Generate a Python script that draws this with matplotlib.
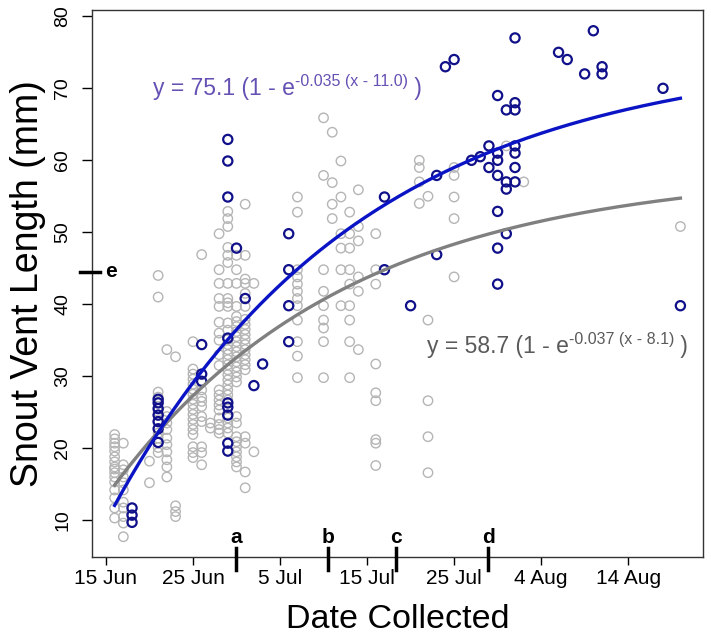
import numpy as np
import matplotlib
matplotlib.use("Agg")
import matplotlib.pyplot as plt
import matplotlib.transforms as mtransforms

plt.rcParams["font.family"] = ["Liberation Sans", "DejaVu Sans"]

# day number: 1 = 1 June
gray_columns = [
    (16, [21.9, 21.3, 20.7, 20.2, 19.6, 18.8, 18.1, 17.4, 17.1, 16.6, 16.0, 15.3, 14.2, 13.1, 11.7, 10.3]),
    (17, [20.7, 17.7, 17.0, 16.0, 15.2, 14.2, 12.5, 11.7, 10.5, 9.6, 7.7]),
    (20, [18.2, 15.2]),
    (21, [44.0, 41.0, 27.8, 27.1, 25.1, 24.6, 23.7, 22.1, 21.4, 20.1, 19.4]),
    (22, [33.7, 25.1, 24.4, 23.5, 22.6, 21.4, 20.5, 19.5, 18.4, 17.4, 16.0]),
    (23, [32.7, 12.0, 11.2, 10.5]),
    (25, [34.8, 31.0, 30.3, 29.6, 28.9, 28.2, 27.5, 26.8, 26.1, 25.4, 24.7, 24.0, 23.3, 22.6, 21.9,
          20.2, 19.4, 18.7]),
    (26, [46.9, 28.1, 27.1, 26.5, 25.8, 24.4, 23.7, 20.2, 19.4, 17.7]),
    (27, [23.5, 22.8]),
    (28, [49.8, 44.8, 42.9, 40.8, 39.7, 37.5, 36.0, 35.0, 33.0, 31.5, 28.1, 27.4, 26.7, 26.0, 25.3,
          24.2, 23.3, 22.6, 22.1]),
    (29, [52.9, 51.9, 50.8, 47.9, 46.8, 45.8, 42.9, 40.8, 40.2, 39.7, 37.4, 36.4, 35.1, 34.4, 33.7,
          33.0, 32.3, 31.6, 30.9, 30.2, 29.5, 28.8, 28.1, 27.4, 26.7, 24.2, 23.5, 22.8, 22.1]),
    (30, [46.8, 44.8, 42.9, 39.7, 38.3, 37.6, 36.9, 36.2, 35.5, 34.8, 34.1, 33.4, 32.7, 32.0, 31.3,
          30.6, 29.9, 29.2, 24.4, 23.5, 21.6, 20.9, 20.2, 19.5, 18.8, 18.1, 17.4]),
    (31, [53.9, 46.8, 43.5, 42.9, 41.5, 39.7, 37.9, 37.2, 36.5, 35.8, 35.1, 34.4, 33.7, 33.0, 32.3,
          31.6, 30.9, 21.6, 20.7, 16.7, 14.5]),
    (32, [42.9, 19.5]),
    (37, [54.9, 52.8, 44.8, 43.8, 42.8, 41.8, 40.8, 39.8, 37.8, 34.8, 32.8, 29.8]),
    (40, [65.9, 57.9, 44.8, 41.8, 39.8, 37.8, 36.7, 34.8, 29.8]),
    (41, [63.9, 56.9, 53.9, 51.9]),
    (42, [59.9, 54.9, 49.8, 47.8, 44.8, 39.8]),
    (43, [52.8, 49.8, 47.8, 44.8, 42.8, 39.8, 37.8, 34.8, 29.8]),
    (44, [55.9, 50.8, 48.8, 43.8, 41.8, 33.7]),
    (46, [49.8, 44.8, 42.8, 31.7, 27.7, 26.6, 21.2, 20.7, 17.6]),
    (51, [60.0, 59.0, 57.0, 54.0]),
    (52, [55.0, 37.8, 26.6, 21.6, 16.6]),
    (55, [59.0, 57.9, 54.9, 51.9, 43.8]),
    (61, [62.0]),
    (63, [57.0]),
    (81, [50.8]),
]

blue_columns = [
    (18, [11.7, 10.7, 9.7]),
    (21, [26.8, 26.3, 25.5, 24.6, 23.7, 22.7, 20.8]),
    (26, [34.4, 30.3, 29.3]),
    (29, [62.9, 59.9, 54.9, 35.3, 26.3, 25.7, 24.6, 20.7, 19.6]),
    (30, [47.8]),
    (31, [40.8]),
    (32, [28.7]),
    (33, [31.7]),
    (36, [49.8, 44.8, 39.8, 34.8]),
    (47, [54.9, 44.8]),
    (50, [39.8]),
    (53, [57.9, 46.9]),
    (54, [73.0]),
    (55, [74.0]),
    (57, [60.0]),
    (58, [60.5]),
    (59, [62.0, 59.0]),
    (60, [69.0, 61.0, 60.0, 57.9, 52.9, 47.8, 42.8]),
    (61, [67.0, 57.0, 56.0, 49.8]),
    (62, [77.0, 68.0, 67.0, 62.0, 61.0, 59.0, 57.0]),
    (67, [75.0]),
    (68, [74.0]),
    (70, [72.0]),
    (71, [78.0]),
    (72, [73.0, 72.0]),
    (79, [70.0]),
    (81, [39.8]),
]

# von Bertalanffy fits: (asymptote, k, t0)
blue_fit = (75.1, 0.035, 11.0)
gray_fit = (58.7, 0.037, 8.1)

date_ticks = [15, 25, 35, 45, 55, 65, 75]
date_labels = ["15 Jun", "25 Jun", "5 Jul", "15 Jul", "25 Jul", "4 Aug", "14 Aug"]
event_days = [30, 40.5, 48.3, 58.9]
event_letters = ["a", "b", "c", "d"]
e_level = 44.5


def expand(columns):
    xs, ys = [], []
    for day, vals in columns:
        xs += [day] * len(vals)
        ys += vals
    return np.array(xs, float), np.array(ys, float)


def vb(x, fit):
    L, k, t0 = fit
    return L * (1 - np.exp(-k * (x - t0)))


def equation(ax, x, y, fit, color):
    # main text, raised exponent, then closing paren on the same baseline
    L, k, t0 = fit
    t1 = ax.text(x, y, f"y = {L:.1f} (1 - e", transform=ax.transAxes, color=color,
                 fontsize=16.5, va="baseline", ha="left")
    t2 = ax.annotate(f"-{k:.3f} (x - {t0:.1f})", xy=(1, 0.62), xycoords=t1, color=color,
                     fontsize=11.5, va="baseline", ha="left")
    ax.annotate(" )", xy=(1, y), xycoords=(t2, "axes fraction"), color=color, fontsize=16.5,
                va="baseline", ha="left")


gx, gy = expand(gray_columns)
bx, by = expand(blue_columns)

fig = plt.figure(figsize=(7.11, 6.44), dpi=100, facecolor="white")
ax = fig.add_axes([0.1294, 0.1351, 0.8594, 0.8486])

ax.scatter(gx, gy, s=46, facecolors="none", edgecolors="#b5b5b5", linewidths=1.0, zorder=2)
ax.scatter(bx, by, s=44, facecolors="none", edgecolors="#10108a", linewidths=1.6, zorder=3)

allx = np.concatenate([gx, bx])
xs = np.linspace(allx.min(), allx.max(), 200)
ax.plot(xs, vb(xs, gray_fit), color="#808080", lw=2.4, zorder=4)
ax.plot(xs, vb(xs, blue_fit), color="#0a14c4", lw=2.4, zorder=4)

equation(ax, 0.1, 0.845, blue_fit, "#6650b4")
equation(ax, 0.548, 0.373, gray_fit, "#5a5a5a")

allyv = np.concatenate([gy, by])
xr = allx.max() - allx.min()
yr = allyv.max() - allyv.min()
ax.set_xlim(allx.min() - 0.04 * xr, allx.max() + 0.04 * xr)
ax.set_ylim(allyv.min() - 0.04 * yr, allyv.max() + 0.04 * yr)

ax.set_xticks(date_ticks)
ax.set_xticklabels(date_labels)
ax.set_yticks(range(10, 81, 10))
ax.tick_params(axis="x", labelsize=15, length=6, width=1, pad=3)
ax.tick_params(axis="y", labelsize=14, length=7, width=1, pad=8)
for lab in ax.get_yticklabels():
    lab.set_rotation(90)
    lab.set_va("center")
for sp in ax.spines.values():
    sp.set_linewidth(1.0)
    sp.set_color("#333333")

ax.set_xlabel("Date Collected", fontsize=24.5, labelpad=11)
ax.set_ylabel("Snout Vent Length (mm)", fontsize=27, labelpad=6)

# event markers along the date axis
trans = mtransforms.blended_transform_factory(ax.transData, ax.transAxes)
for d, lab in zip(event_days, event_letters):
    ax.plot([d, d], [0.017, -0.024], color="black", lw=2.5, transform=trans, clip_on=False, zorder=5)
    ax.text(d, 0.026, lab, transform=trans, ha="center", va="baseline", fontsize=15,
            fontweight="bold")

trans_y = mtransforms.blended_transform_factory(ax.transAxes, ax.transData)
ax.plot([-0.02, 0.013], [e_level, e_level], color="black", lw=2.5, transform=trans_y,
        clip_on=False, zorder=5)
ax.text(0.022, e_level, "e", transform=trans_y, ha="left", va="center", fontsize=15,
        fontweight="bold")

fig.savefig("out.png", dpi=100, facecolor="white")
